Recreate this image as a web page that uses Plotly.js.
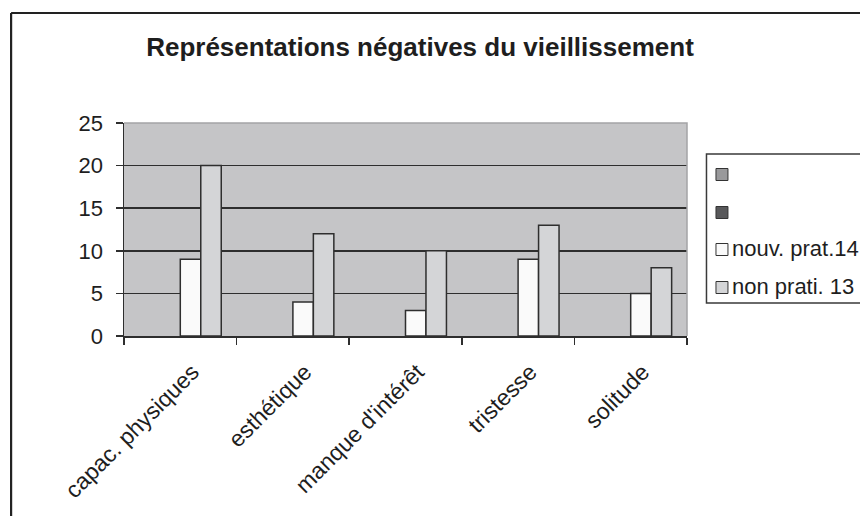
<!DOCTYPE html>
<html>
<head>
<meta charset="utf-8">
<script src="https://cdn.plot.ly/plotly-3.0.1.min.js"></script>
<style>html,body{margin:0;padding:0;background:#fff;}#chart{width:860px;height:516px;}</style>
</head>
<body>
<div id="chart"></div>
<script>
// ---- data ----
var categories = ["capac. physiques", "esthétique", "manque d'intérêt", "tristesse", "solitude"];
var seriesNames = ["", "", "nouv. prat.14", "non prati. 13"];
var series1 = [null, null, null, null, null];
var series2 = [null, null, null, null, null];
var nouvPrat = [9, 4, 3, 9, 5];
var nonPrati = [20, 12, 10, 13, 8];
var yTickVals = [0, 5, 10, 15, 20, 25];
var titleText = "Représentations négatives du vieillissement";

// ---- styling ----
var W = 860, H = 516;
var M = {l: 124, r: 172.5, t: 123, b: 180};
var PW = W - M.l - M.r, PH = H - M.t - M.b;
function px2x(px) { return (px - M.l) / PW; }
function py2y(py) { return (H - M.b - py) / PH; }
var FONT = "Liberation Sans, Arial, Helvetica, sans-serif";
var seriesFill = ["#99999b", "#58585a", "#fafafa", "#d4d5d7"];
var lineCol = "#2e2e2e";

var seriesData = [series1, series2, nouvPrat, nonPrati];
var traces = seriesData.map(function (vals, i) {
  return {
    type: "bar",
    x: categories,
    y: vals,
    name: seriesNames[i],
    marker: {color: seriesFill[i], line: {color: lineCol, width: 1.5}},
    showlegend: false,
    hoverinfo: "skip"
  };
});

var shapes = [];
var annotations = [];
// plot-area light border (top and right)
shapes.push({type: "path", xref: "paper", yref: "paper",
  path: "M0,1 L1,1 L1,0", line: {color: "#a4a4a6", width: 1.5}, layer: "above"});
// outer frame
shapes.push({type: "line", xref: "paper", yref: "paper",
  x0: px2x(11), x1: px2x(11), y0: py2y(13), y1: py2y(530), line: {color: "#222", width: 2.2}});
shapes.push({type: "line", xref: "paper", yref: "paper",
  x0: px2x(11), x1: px2x(880), y0: py2y(13), y1: py2y(13), line: {color: "#222", width: 2.2}});
// legend box
shapes.push({type: "rect", xref: "paper", yref: "paper",
  x0: px2x(707), x1: px2x(900), y0: py2y(154), y1: py2y(303),
  line: {color: "#3a3a3a", width: 1.5}, fillcolor: "#ffffff"});
var legCenters = [174.5, 212.5, 249.5, 287.5];
seriesNames.forEach(function (nm, i) {
  var cy = legCenters[i];
  shapes.push({type: "rect", xref: "paper", yref: "paper",
    x0: px2x(716.5), x1: px2x(728.5), y0: py2y(cy - 6), y1: py2y(cy + 6),
    line: {color: "#333", width: 1}, fillcolor: seriesFill[i]});
  if (nm) {
    annotations.push({xref: "paper", yref: "paper", x: px2x(731), y: py2y(cy - 1.5),
      xanchor: "left", yanchor: "middle", text: nm, showarrow: false,
      font: {family: FONT, size: 22, color: "#1e1e1e"}});
  }
});

var layout = {
  width: W, height: H,
  margin: M,
  paper_bgcolor: "#ffffff",
  plot_bgcolor: "#c5c5c7",
  barmode: "group",
  bargap: 1.5 / 5.5,
  bargroupgap: 0,
  showlegend: false,
  title: {text: "<b>" + titleText + "</b>", xref: "container", yref: "container",
    x: 420 / W, y: 1 - 47 / H, xanchor: "center", yanchor: "middle",
    font: {family: FONT, size: 26, color: "#1e1e1e"}},
  xaxis: {
    type: "category",
    showline: true, linecolor: lineCol, linewidth: 1.5,
    ticks: "outside", ticklen: 7, tickwidth: 1.5, tickcolor: lineCol,
    tickson: "boundaries",
    tickangle: -45,
    ticklabelshift: 12,
    ticklabelstandoff: 12,
    showgrid: false,
    tickfont: {family: FONT, size: 23, color: "#1e1e1e"},
    fixedrange: true
  },
  yaxis: {
    range: [0, 25],
    tickvals: yTickVals,
    showline: true, linecolor: lineCol, linewidth: 1.5,
    ticks: "outside", ticklen: 7, tickwidth: 1.5, tickcolor: lineCol,
    showgrid: true, gridcolor: lineCol, gridwidth: 1.5,
    zeroline: false,
    ticklabelstandoff: 8,
    tickfont: {family: FONT, size: 22, color: "#1e1e1e"},
    fixedrange: true
  },
  shapes: shapes,
  annotations: annotations
};

Plotly.newPlot("chart", traces, layout, {displayModeBar: false, staticPlot: true});
</script>
</body>
</html>
